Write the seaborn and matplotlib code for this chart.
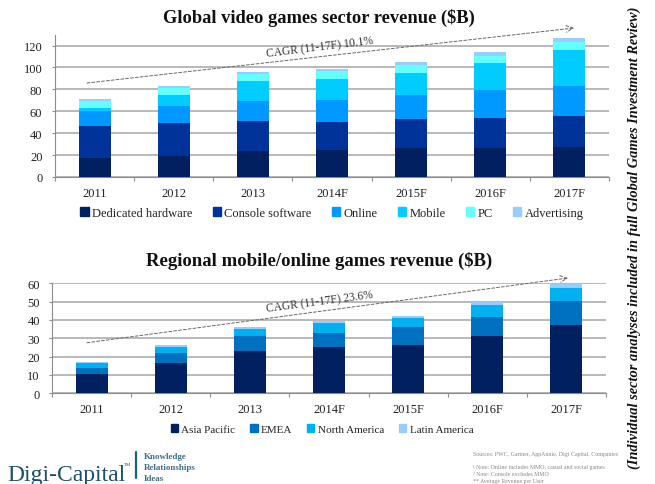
import numpy as np
import pandas as pd
import matplotlib.pyplot as plt
import seaborn as sns
from matplotlib.patches import Patch

# --- dados ---
anos = ["2011", "2012", "2013", "2014F", "2015F", "2016F", "2017F"]

dedicated = [17.6, 19.5, 23.4, 25.0, 26.7, 26.7, 27.4]
console = [29.2, 29.5, 27.4, 25.2, 26.3, 27.3, 28.6]
online = [13.2, 15.5, 18.2, 20.0, 21.8, 25.0, 26.7]
mobile = [3.0, 10.5, 18.2, 19.2, 20.2, 25.0, 33.3]
pc = [6.6, 6.0, 6.8, 7.6, 7.4, 6.6, 7.0]
advertising = [1.4, 1.7, 1.7, 2.0, 2.6, 3.4, 3.5]

asia = [10.5, 16.5, 23.0, 25.0, 26.5, 31.3, 37.5]
emea = [3.5, 5.5, 8.0, 8.0, 9.5, 10.5, 12.9]
north_america = [2.5, 3.5, 4.3, 5.4, 5.0, 6.4, 7.2]
latin_america = [0.4, 0.7, 0.9, 1.1, 1.2, 1.4, 1.9]

nomes_global = ["Dedicated hardware", "Console software", "Online", "Mobile", "PC", "Advertising"]
cores_global = ["#002060", "#003399", "#0099FF", "#00CCFF", "#66FFFF", "#99CCFF"]
nomes_regional = ["Asia Pacific", "EMEA", "North America", "Latin America"]
cores_regional = ["#002060", "#0070C0", "#00B0F0", "#99CCFF"]

sns.set_theme(style="white")
plt.rcParams['font.family'] = ['Liberation Serif', 'DejaVu Serif']
W, H = 655, 485
CINZA = "#8c8c8c"


def eixos(x0, x1, y_top, y_bottom):
    return fig.add_axes([x0 / W, 1 - y_bottom / H, (x1 - x0) / W, (y_bottom - y_top) / H])


def empilhado(ax, series, cores):
    # barras acumuladas, da mais alta para a mais baixa
    acumulado = np.cumsum(np.array(series), axis=0)
    for i in range(len(series) - 1, -1, -1):
        df = pd.DataFrame({"ano": anos, "valor": acumulado[i]})
        sns.barplot(data=df, x="ano", y="valor", color=cores[i], saturation=1,
                    width=0.405, linewidth=0, ax=ax, zorder=3)
    ax.set_xlabel("")
    ax.set_ylabel("")
    ax.grid(axis="y", color="#a6a6a6", linewidth=1.1, zorder=0)
    ax.set_axisbelow(True)
    for lado in ["top", "right"]:
        ax.spines[lado].set_visible(False)
    for lado in ["left", "bottom"]:
        ax.spines[lado].set_color(CINZA)
        ax.spines[lado].set_linewidth(0.8)
    ax.set_xlim(-0.5, 6.5)
    ax.set_xticks(np.arange(-0.5, 7), minor=True)
    ax.tick_params(axis="x", which="minor", bottom=True, length=3, width=0.8, color=CINZA)
    ax.tick_params(axis="x", which="major", bottom=False, labelsize=9, pad=1, colors="#222222")
    ax.tick_params(axis="y", left=True, length=2, width=0.8, color=CINZA, labelsize=9,
                   pad=7, labelcolor="#222222")


def tendencia(p0, p1, texto, tx, ty, angulo):
    fig.add_artist(plt.Annotation("", xy=(p1[0] / W, 1 - p1[1] / H), xytext=(p0[0] / W, 1 - p0[1] / H),
                                  xycoords="figure fraction", textcoords="figure fraction",
                                  arrowprops=dict(arrowstyle="->", color="#666666", linestyle=(0, (3, 2)),
                                                  linewidth=0.7, shrinkA=0, shrinkB=0)))
    fig.text(tx / W, 1 - ty / H, texto, fontsize=8.3, rotation=angulo, color="#333333",
             ha="center", va="center", rotation_mode="anchor")


def legenda(nomes, cores, y, x_centro, tamanho, espaco):
    handles = [Patch(color=c, label=n) for n, c in zip(nomes, cores)]
    fig.legend(handles=handles, loc="center", bbox_to_anchor=(x_centro / W, 1 - y / H), ncol=len(nomes),
               frameon=False, fontsize=tamanho, handlelength=0.65, handleheight=0.65, handletextpad=0.3,
               columnspacing=espaco, labelcolor="#222222")


fig = plt.figure(figsize=(W / 100, H / 100), dpi=100, facecolor="white")

# --- grafico de cima ---
ax1 = eixos(55, 609, 35.6, 178)
empilhado(ax1, [dedicated, console, online, mobile, pc, advertising], cores_global)
ax1.set_ylim(0, 130)
ax1.set_yticks(range(0, 121, 20))
fig.text(319 / W, 1 - 18 / H, "Global video games sector revenue ($B)", fontsize=13.3,
         fontweight="bold", ha="center", va="center", color="#111111")
tendencia((87, 84), (574, 29), "CAGR (11-17F) 10.1%", 320, 48, 7)
legenda(nomes_global, cores_global, 214, 332, 9, 1.6)

# --- grafico de baixo ---
ax2 = eixos(52.3, 605.7, 284.3, 394.3)
empilhado(ax2, [asia, emea, north_america, latin_america], cores_regional)
ax2.set_ylim(0, 60)
ax2.set_yticks(range(0, 61, 10))
fig.text(319 / W, 1 - 261 / H, "Regional mobile/online games revenue ($B)", fontsize=13.5,
         fontweight="bold", ha="center", va="center", color="#111111")
tendencia((87, 343.7), (568, 279), "CAGR (11-17F) 23.6%", 320, 302, 7.5)
legenda(nomes_regional, cores_regional, 430, 322, 8, 1.35)

# --- texto lateral ---
fig.text(634 / W, 1 - 238 / H, "(Individual sector analyses included in full Global Games Investment Review)",
         rotation=90, fontsize=10.4, fontweight="bold", style="italic", ha="center", va="center", color="#111111")

# --- logo e fontes ---
fig.text(7 / W, 1 - 481 / H, "Digi-Capital", fontsize=17, color="#1B4F6B", ha="left", va="baseline")
fig.text(124 / W, 1 - 465 / H, "TM", fontsize=3.5, color="#1B4F6B", ha="left", va="center")
fig.add_artist(plt.Line2D([135.5 / W, 135.5 / W], [1 - 453 / H, 1 - 479 / H], color="#1B5F85", linewidth=1.6))
for y, palavra in zip([457, 468, 479], ["Knowledge", "Relationships", "Ideas"]):
    fig.text(144 / W, 1 - y / H, palavra, fontsize=6.5, fontweight="bold", color="#3F6E88", ha="left", va="center")

notas = [(455, "Sources: PWC, Gartner, AppAnnie, Digi Capital, Companies"),
         (468, "¹ Note: Online includes MMO, casual and social games"),
         (475, "² Note: Console excludes MMO"),
         (482, "** Average Revenue per User")]
for y, nota in notas:
    fig.text(473 / W, 1 - y / H, nota, fontsize=4.2, color="#888888", ha="left", va="center")

fig.savefig("out.png", dpi=100)
